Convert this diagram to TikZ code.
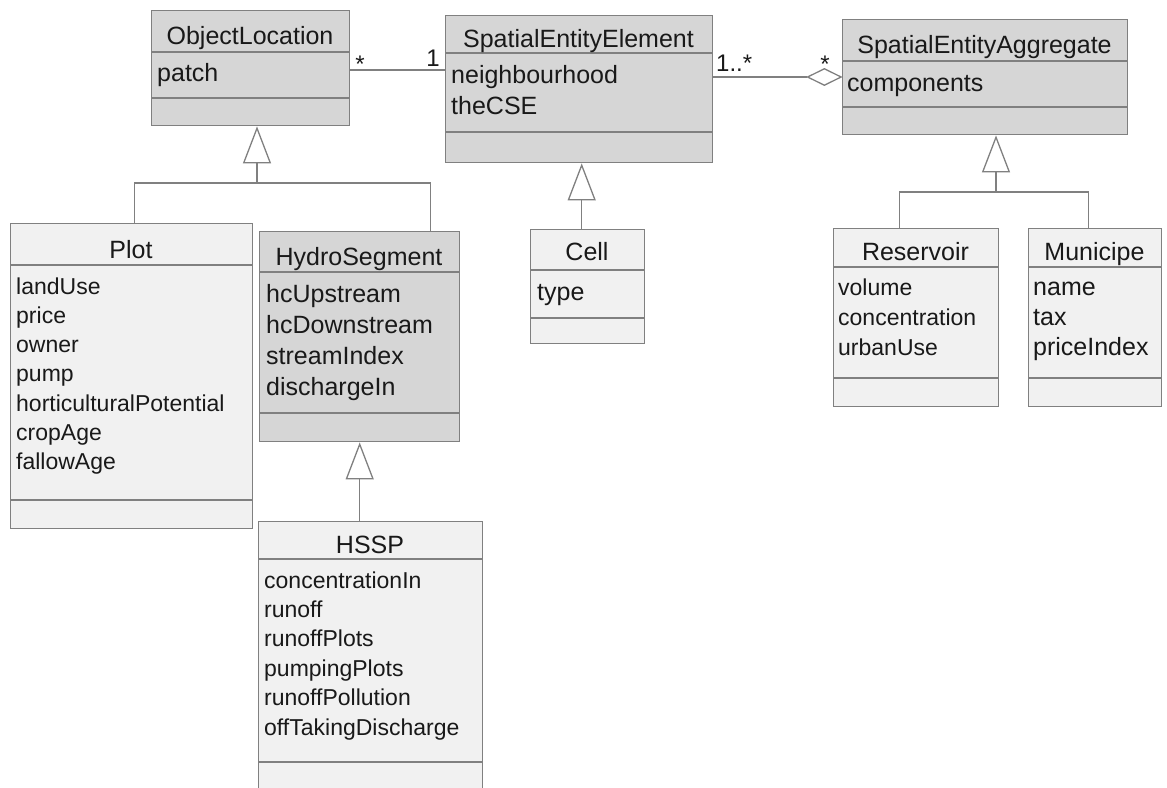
\documentclass[tikz,border=0pt]{standalone}
\usepackage{fontspec}
\setmainfont{Liberation Sans}
\usetikzlibrary{arrows.meta,shapes.geometric}
\definecolor{darkfill}{RGB}{214,214,214}
\definecolor{lightfill}{RGB}{241,241,241}
\definecolor{edgegray}{RGB}{128,128,128}
\definecolor{ink}{RGB}{25,25,25}
\begin{document}
\begin{tikzpicture}[x=1pt,y=-1pt,
  classbox/.style={draw=edgegray, line width=1.4pt, inner sep=0pt, anchor=north west},
  darkbox/.style={classbox, fill=darkfill},
  lightbox/.style={classbox, fill=lightfill},
  divider/.style={draw=edgegray, line width=1.4pt},
  titletext/.style={anchor=base, inner sep=0pt, text=ink, font=\fontsize{25}{30}\selectfont},
  attrtext/.style={anchor=base west, inner sep=0pt, text=ink, font=\fontsize{25}{30}\selectfont},
  smallattr/.style={attrtext, font=\fontsize{23}{28}\selectfont},
  link/.style={draw=edgegray, line width=1.3pt},
  gen/.style={link, -{Triangle[open, length=37pt, width=28pt, fill=white]}},
  multtext/.style={anchor=base, inner sep=0pt, text=ink, font=\fontsize{24}{28}\selectfont}
]
\fill[white] (0,0) rectangle (1167,787);
\useasboundingbox (0,0) rectangle (1167,787);

% ---------- ObjectLocation ----------
\node[darkbox, minimum width=198pt, minimum height=115pt] (ol) at (151,10) {};
\draw[divider] (151,52) -- (349,52);
\draw[divider] (151,98) -- (349,98);
\node[titletext] (olT) at (250,44) {ObjectLocation};
\node[attrtext] (olA) at (157,81) {patch};

% ---------- SpatialEntityElement ----------
\node[darkbox, minimum width=267pt, minimum height=147pt] (see) at (445,15) {};
\draw[divider] (445,53) -- (712,53);
\draw[divider] (445,132) -- (712,132);
\node[titletext] (seeT) at (578.5,47) {SpatialEntityElement};
\node[attrtext] (seeA1) at (451,83) {neighbourhood};
\node[attrtext] (seeA2) at (451,114) {theCSE};

% ---------- SpatialEntityAggregate ----------
\node[darkbox, minimum width=285pt, minimum height=115pt] (sea) at (842,19) {};
\draw[divider] (842,61) -- (1127,61);
\draw[divider] (842,107) -- (1127,107);
\node[titletext] (seaT) at (984.5,53) {SpatialEntityAggregate};
\node[attrtext] (seaA) at (847,91) {components};

% ---------- Plot ----------
\node[lightbox, minimum width=242pt, minimum height=305pt] (plot) at (10,223) {};
\draw[divider] (10,265) -- (252,265);
\draw[divider] (10,500) -- (252,500);
\node[titletext] (plotT) at (131,258) {Plot};
\foreach \t [count=\i from 0] in {landUse,price,owner,pump,horticulturalPotential,cropAge,fallowAge}
  \node[smallattr] (plotA\i) at (16,{294+29.3*\i}) {\t};

% ---------- HydroSegment ----------
\node[darkbox, minimum width=200pt, minimum height=210pt] (hydro) at (259,231) {};
\draw[divider] (259,272) -- (459,272);
\draw[divider] (259,413) -- (459,413);
\node[titletext] (hydroT) at (359,265) {HydroSegment};
\foreach \t [count=\i from 0] in {hcUpstream,hcDownstream,streamIndex,dischargeIn}
  \node[attrtext] (hydroA\i) at (266,{302+31*\i}) {\t};

% ---------- HSSP ----------
\node[lightbox, minimum width=224pt, minimum height=290pt] (hssp) at (258,521) {};
\draw[divider] (258,559) -- (482,559);
\draw[divider] (258,762) -- (482,762);
\node[titletext] (hsspT) at (370,553) {HSSP};
\foreach \t [count=\i from 0] in {concentrationIn,runoff,runoffPlots,pumpingPlots,runoffPollution,offTakingDischarge}
  \node[smallattr] (hsspA\i) at (264,{588+29.4*\i}) {\t};

% ---------- Cell ----------
\node[lightbox, minimum width=114pt, minimum height=114pt] (cell) at (530,229) {};
\draw[divider] (530,270) -- (644,270);
\draw[divider] (530,318) -- (644,318);
\node[titletext] (cellT) at (587,260) {Cell};
\node[attrtext] (cellA) at (537,300) {type};

% ---------- Reservoir ----------
\node[lightbox, minimum width=165pt, minimum height=178pt] (res) at (833,228) {};
\draw[divider] (833,267) -- (998,267);
\draw[divider] (833,378) -- (998,378);
\node[titletext] (resT) at (915.5,260) {Reservoir};
\foreach \t [count=\i from 0] in {volume,concentration,urbanUse}
  \node[smallattr] (resA\i) at (838,{295+30*\i}) {\t};

% ---------- Municipe ----------
\node[lightbox, minimum width=133pt, minimum height=178pt] (mun) at (1028,228) {};
\draw[divider] (1028,267) -- (1161,267);
\draw[divider] (1028,378) -- (1161,378);
\node[titletext] (munT) at (1094.5,260) {Municipe};
\foreach \t [count=\i from 0] in {name,tax,priceIndex}
  \node[attrtext] (munA\i) at (1033,{295+30*\i}) {\t};

% ---------- Association ObjectLocation -- SpatialEntityElement ----------
\coordinate (assocY) at (0,70);
\draw[link] (ol.east |- assocY) -- (see.west |- assocY);
\node[multtext] (m1) at (360,72) {*};
\node[multtext] (m2) at (433,66) {1};

% ---------- Aggregation SpatialEntityElement -- SpatialEntityAggregate ----------
\coordinate (aggY) at (0,77);
\node[diamond, draw=edgegray, line width=1.3pt, fill=white, inner sep=0pt,
      minimum width=34pt, minimum height=17pt, anchor=east] (dia) at (sea.west |- aggY) {};
\draw[link] (see.east |- aggY) -- (dia.west);
\node[multtext, anchor=base west] (m3) at (716,71) {1..*};
\node[multtext] (m4) at (825,72) {*};

% ---------- Generalisations ----------
\coordinate (forkOL) at (257,183);
\draw[link] ([xshift=3pt]plot.north) |- (forkOL);
\draw[link] ([xshift=-30pt]hydro.north east) |- (forkOL);
\draw[gen] (forkOL) -- (ol.south -| forkOL);

\coordinate (cellTop) at ([xshift=-6pt]cell.north);
\draw[gen] (cellTop) -- (see.south -| cellTop);

\draw[gen] (hssp.north -| hydro.south) -- (hydro.south);

\coordinate (forkSEA) at (996,192);
\draw[link] ([xshift=-16.5pt]res.north) |- (forkSEA);
\draw[link] ([xshift=-6.5pt]mun.north) |- (forkSEA);
\draw[gen] (forkSEA) -- (sea.south -| forkSEA);
\end{tikzpicture}
\end{document}
